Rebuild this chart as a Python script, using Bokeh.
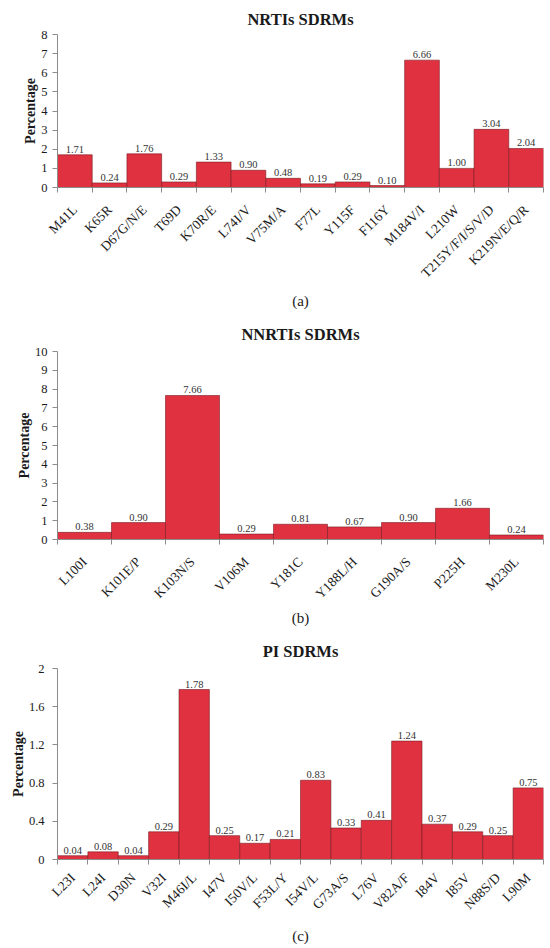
import numpy as np
from bokeh.plotting import figure
from bokeh.models import Range1d, FixedTicker, ColumnDataSource
from bokeh.layouts import column
from bokeh.embed import file_html
from bokeh.resources import INLINE
from bokeh.core.properties import value

# ---------------- data ----------------
nrti_mutations = ["M41L", "K65R", "D67G/N/E", "T69D", "K70R/E", "L74I/V", "V75M/A",
                  "F77L", "Y115F", "F116Y", "M184V/I", "L210W", "T215Y/F/I/S/V/D",
                  "K219N/E/Q/R"]
nrti_values = [1.71, 0.24, 1.76, 0.29, 1.33, 0.90, 0.48, 0.19, 0.29, 0.10, 6.66, 1.00,
               3.04, 2.04]
nrti_yticks = [0, 1, 2, 3, 4, 5, 6, 7, 8]
nrti_ytick_labels = ["0", "1", "2", "3", "4", "5", "6", "7", "8"]

nnrti_mutations = ["L100I", "K101E/P", "K103N/S", "V106M", "Y181C", "Y188L/H",
                   "G190A/S", "P225H", "M230L"]
nnrti_values = [0.38, 0.90, 7.66, 0.29, 0.81, 0.67, 0.90, 1.66, 0.24]
nnrti_yticks = [0, 1, 2, 3, 4, 5, 6, 7, 8, 9, 10]
nnrti_ytick_labels = ["0", "1", "2", "3", "4", "5", "6", "7", "8", "9", "10"]

pi_mutations = ["L23I", "L24I", "D30N", "V32I", "M46I/L", "I47V", "I50V/L", "F53L/Y",
                "I54V/L", "G73A/S", "L76V", "V82A/F", "I84V", "I85V", "N88S/D", "L90M"]
pi_values = [0.04, 0.08, 0.04, 0.29, 1.78, 0.25, 0.17, 0.21, 0.83, 0.33, 0.41, 1.24,
             0.37, 0.29, 0.25, 0.75]
pi_yticks = [0, 0.4, 0.8, 1.2, 1.6, 2]
pi_ytick_labels = ["0", "0.4", "0.8", "1.2", "1.6", "2"]

titles = ["NRTIs SDRMs", "NNRTIs SDRMs", "PI SDRMs"]
sublabels = ["(a)", "(b)", "(c)"]

# ---------------- style ----------------
FONT = "Liberation Serif"
BAR = "#E03140"
EDGE = "#7a1b22"
AXIS = "#8c8c8c"
TXT = "#1a1a1a"


def panel(title, cats, vals, yticks, ylabels, sub, geo):
    n = len(cats)
    xs = np.arange(n) + 0.5
    src = ColumnDataSource(dict(x=xs, v=vals, lab=[f"{v:.2f}" for v in vals]))
    p = figure(width=550, height=geo["h"],
               x_range=Range1d(0, n), y_range=Range1d(yticks[0], yticks[-1]),
               output_backend="svg", toolbar_location=None, tools="",
               min_border_left=geo["bl"], min_border_right=7,
               min_border_top=geo["bt"], min_border_bottom=geo["bb"])
    p.outline_line_color = None
    p.xgrid.visible = False
    p.ygrid.visible = False
    p.background_fill_color = "white"
    p.border_fill_color = "white"

    p.title.text = title
    p.title.align = "center"
    p.title.text_font = FONT
    p.title.text_font_size = "16.5px"
    p.title.text_font_style = "bold"
    p.title.text_color = TXT
    p.title.standoff = geo["ts"]

    p.vbar(x="x", top="v", bottom=0, width=1, source=src,
           fill_color=BAR, line_color=EDGE, line_width=0.6)
    p.text(x="x", y="v", text="lab", source=src, text_align="center",
           text_baseline="alphabetic", y_offset=-5.5, text_font=value(FONT),
           text_font_size="10.5px", text_color="#333333")

    xa = p.xaxis[0]
    xa.ticker = FixedTicker(ticks=list(xs), minor_ticks=list(range(n + 1)))
    xa.major_label_overrides = {float(x): c for x, c in zip(xs, cats)}
    xa.major_tick_out = 0
    xa.major_tick_in = 0
    xa.minor_tick_out = 5
    xa.minor_tick_in = 0
    xa.minor_tick_line_color = AXIS
    xa.axis_line_color = AXIS
    xa.major_label_orientation = np.pi / 4
    xa.major_label_text_font = FONT
    xa.major_label_text_font_size = "13.5px"
    xa.major_label_text_color = TXT
    xa.major_label_standoff = geo["xs"]
    xa.axis_label = sub
    xa.axis_label_text_font = FONT
    xa.axis_label_text_font_style = "normal"
    xa.axis_label_text_font_size = "15px"
    xa.axis_label_text_color = TXT
    xa.axis_label_standoff = geo["xls"]

    ya = p.yaxis[0]
    ya.ticker = FixedTicker(ticks=yticks)
    ya.major_label_overrides = {float(t): s for t, s in zip(yticks, ylabels)}
    ya.major_tick_out = 5
    ya.major_tick_in = 0
    ya.minor_tick_out = 0
    ya.minor_tick_in = 0
    ya.major_tick_line_color = AXIS
    ya.axis_line_color = AXIS
    ya.major_label_text_font = FONT
    ya.major_label_text_font_size = "12.5px"
    ya.major_label_text_color = TXT
    ya.major_label_standoff = geo["ys"]
    ya.axis_label = "Percentage"
    ya.axis_label_text_font = FONT
    ya.axis_label_text_font_style = "bold"
    ya.axis_label_text_font_size = "14px"
    ya.axis_label_text_color = TXT
    ya.axis_label_standoff = geo["yls"]
    return p


geo_a = dict(h=311, bl=47, bt=34, bb=120, ts=11, xs=15, xls=4, ys=5, yls=0)
geo_b = dict(h=317, bl=53, bt=40, bb=88, ts=15, xs=15, xls=0, ys=5, yls=0)
geo_c = dict(h=319, bl=57, bt=40, bb=87, ts=15, xs=11, xls=8, ys=8, yls=0)

pa = panel(titles[0], nrti_mutations, nrti_values, nrti_yticks, nrti_ytick_labels,
           sublabels[0], geo_a)
pb = panel(titles[1], nnrti_mutations, nnrti_values, nnrti_yticks, nnrti_ytick_labels,
           sublabels[1], geo_b)
pc = panel(titles[2], pi_mutations, pi_values, pi_yticks, pi_ytick_labels,
           sublabels[2], geo_c)

layout = column(pa, pb, pc, spacing=0)
open("out.html", "w").write(file_html(layout, INLINE))
